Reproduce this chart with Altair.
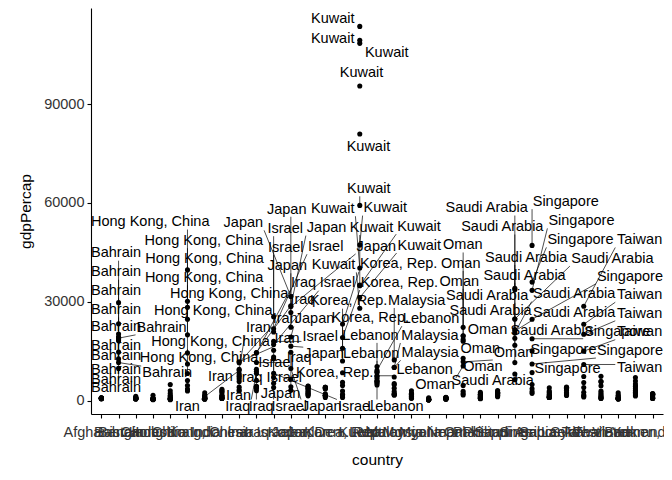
import numpy as np
import pandas as pd
import altair as alt

years = [1952, 1957, 1962, 1967, 1972, 1977, 1982, 1987, 1992, 1997, 2002, 2007]

countries = ["Afghanistan", "Bahrain", "Bangladesh", "Cambodia", "China",
             "Hong Kong, China", "India", "Indonesia", "Iran", "Iraq", "Israel",
             "Japan", "Jordan", "Korea, Dem. Rep.", "Korea, Rep.", "Kuwait",
             "Lebanon", "Malaysia", "Mongolia", "Myanmar", "Nepal", "Oman",
             "Pakistan", "Philippines", "Saudi Arabia", "Singapore", "Sri Lanka",
             "Syria", "Taiwan", "Thailand", "Vietnam", "West Bank and Gaza",
             "Yemen, Rep."]

afghanistan = [779, 821, 853, 836, 740, 786, 978, 852, 649, 635, 727, 975]
bahrain = [9867, 11636, 12753, 14805, 18269, 19340, 19211, 18524, 19036, 20292, 23404, 29796]
bangladesh = [684, 662, 686, 721, 630, 660, 677, 752, 838, 973, 1136, 1391]
cambodia = [368, 434, 497, 523, 422, 525, 625, 684, 682, 734, 896, 1714]
china = [400, 576, 488, 613, 677, 741, 962, 1379, 1656, 2289, 3119, 4959]
hong_kong = [3054, 3629, 4693, 6198, 8316, 11186, 14561, 20038, 24758, 28378, 30209, 39725]
india = [547, 590, 658, 701, 724, 813, 856, 977, 1164, 1459, 1747, 2452]
indonesia = [750, 859, 849, 763, 1111, 1383, 1517, 1748, 2383, 3119, 2874, 3541]
iran = [3035, 3290, 4187, 5906, 9613, 11889, 7608, 6642, 7235, 8263, 9241, 11606]
iraq = [4130, 6229, 8342, 8931, 9576, 14688, 14517, 11644, 3745, 3076, 4391, 4471]
israel = [4087, 5386, 7106, 8394, 12787, 13306, 15367, 17122, 18051, 20897, 21906, 25523]
japan = [3217, 4318, 6577, 9848, 14779, 16610, 19384, 22376, 26825, 28817, 28605, 31656]
jordan = [1547, 1886, 2348, 2742, 2110, 2852, 4162, 4449, 3432, 3645, 3845, 4519]
korea_dem = [1088, 1572, 1622, 2144, 3702, 4106, 4106, 4106, 3726, 1691, 1647, 1593]
korea_rep = [1031, 1488, 1536, 2029, 3031, 4657, 5623, 8533, 12104, 15994, 19234, 23348]
kuwait = [108382, 113523, 95458, 80895, 109348, 59265, 31354, 28118, 34933, 40301, 35110, 47307]
lebanon = [4834, 6090, 5716, 6006, 7486, 8660, 7640, 5377, 6891, 8755, 9314, 10461]
malaysia = [1831, 1810, 2036, 2278, 2849, 3828, 4920, 5249, 7277, 10132, 10207, 12452]
mongolia = [786, 912, 1056, 1226, 1421, 1648, 2000, 2338, 1786, 1902, 2140, 3096]
myanmar = [331, 350, 388, 349, 357, 371, 424, 385, 347, 415, 611, 944]
nepal = [546, 598, 652, 677, 675, 694, 718, 775, 898, 1011, 1057, 1091]
oman = [1828, 2243, 2925, 4721, 10618, 11848, 12955, 18115, 18617, 19702, 19775, 22316]
pakistan = [685, 747, 804, 942, 1050, 1176, 1443, 1705, 1972, 2050, 2093, 2606]
philippines = [1273, 1548, 1650, 1814, 1989, 2373, 2603, 2190, 2279, 2537, 2651, 3190]
saudi_arabia = [6460, 8157, 11626, 16903, 24837, 34168, 33693, 21199, 24841, 20586, 19014, 21655]
singapore = [2315, 2843, 3675, 4977, 8597, 11210, 15169, 18862, 24769, 33519, 36023, 47143]
sri_lanka = [1084, 1073, 1074, 1136, 1213, 1349, 1648, 1877, 2154, 2665, 3015, 3970]
syria = [1644, 2118, 2194, 1882, 2571, 3196, 3793, 3900, 3765, 4014, 4090, 4185]
taiwan = [1207, 1508, 1823, 2644, 4063, 5597, 7426, 11055, 15097, 20207, 23235, 28718]
thailand = [757, 793, 1002, 1295, 1524, 1961, 2393, 2982, 4616, 5853, 5913, 7458]
vietnam = [605, 676, 772, 637, 700, 714, 707, 821, 989, 1386, 1764, 2442]
west_bank = [1516, 1827, 2199, 2650, 3133, 3683, 4337, 5108, 6018, 7111, 4516, 3025]
yemen = [782, 805, 826, 863, 1266, 1830, 1978, 1972, 1880, 2154, 2117, 2281]

gdp_lists = [afghanistan, bahrain, bangladesh, cambodia, china, hong_kong, india,
             indonesia, iran, iraq, israel, japan, jordan, korea_dem, korea_rep,
             kuwait, lebanon, malaysia, mongolia, myanmar, nepal, oman, pakistan,
             philippines, saudi_arabia, singapore, sri_lanka, syria, taiwan,
             thailand, vietnam, west_bank, yemen]

y_ticks = [0, 30000, 60000, 90000]
LABEL_MIN = 7500

# ---- geometry of the panel (used for the label-repel layout) ----
W, H = 572, 406
Y_MIN, Y_MAX = -3950, 119100
X_MIN, X_MAX = -0.6, len(countries) - 1 + 0.6
FS = 14.5
FONT = "Liberation Sans"

rows = []
for ci, (c, vals) in enumerate(zip(countries, gdp_lists)):
    for yr, v in zip(years, vals):
        rows.append({"country": c, "idx": ci, "year": yr, "gdpPercap": v})
df = pd.DataFrame(rows)


def to_px(xv, yv):
    return ((np.asarray(xv, dtype=float) - X_MIN) / (X_MAX - X_MIN) * W,
            (Y_MAX - np.asarray(yv, dtype=float)) / (Y_MAX - Y_MIN) * H)


def from_px(px, py):
    return (X_MIN + np.asarray(px) / W * (X_MAX - X_MIN),
            Y_MAX - np.asarray(py) / H * (Y_MAX - Y_MIN))


CW = {" ": 278, ",": 278, ".": 278, "A": 667, "B": 667, "C": 722, "H": 722, "I": 278,
      "J": 500, "K": 667, "L": 556, "M": 833, "O": 778, "R": 722, "S": 667, "T": 611,
      "a": 556, "b": 556, "c": 500, "d": 556, "e": 556, "g": 556, "h": 556, "i": 222,
      "k": 500, "l": 222, "m": 833, "n": 556, "o": 556, "p": 556, "q": 556, "r": 333,
      "s": 500, "t": 278, "u": 556, "w": 722, "y": 500, "v": 500}


def text_w(s):
    return sum(CW.get(ch, 556) for ch in s) / 1000 * FS


# ---- simple repel layout, in the spirit of ggrepel ----
lab = df[df.gdpPercap > LABEL_MIN].reset_index(drop=True)
ax, ay = to_px(lab.idx.values, lab.gdpPercap.values)
px, py = to_px(df.idx.values, df.gdpPercap.values)
PAD = 2.5
hw = np.array([text_w(s) / 2 + PAD for s in lab.country])
hh = np.full(len(lab), FS * 0.5 + PAD)
k = np.arange(len(lab))
cx = ax + 5 * np.cos(k * 2.39996)
cy = ay + 5 * np.sin(k * 2.39996)
pr = 3.0
n = len(lab)
eye = np.eye(n, dtype=bool)
for it in range(2000):
    dx = cx[:, None] - cx[None, :]
    dy = cy[:, None] - cy[None, :]
    ox = hw[:, None] + hw[None, :] - np.abs(dx)
    oy = hh[:, None] + hh[None, :] - np.abs(dy)
    ov = (ox > 0) & (oy > 0) & ~eye
    d = np.sqrt(dx ** 2 + dy ** 2) + 1e-6
    mag = np.where(ov, np.minimum(ox, oy), 0.0)
    fx = (mag * dx / d).sum(1)
    fy = (mag * dy / d).sum(1)
    pdx = cx[:, None] - px[None, :]
    pdy = cy[:, None] - py[None, :]
    pox = hw[:, None] + pr - np.abs(pdx)
    poy = hh[:, None] + pr - np.abs(pdy)
    pov = (pox > 0) & (poy > 0)
    pd_ = np.sqrt(pdx ** 2 + pdy ** 2) + 1e-6
    pmag = np.where(pov, np.minimum(pox, poy), 0.0)
    fx += 0.5 * (pmag * pdx / pd_).sum(1)
    fy += 0.5 * (pmag * pdy / pd_).sum(1)
    fx += -0.006 * (cx - ax)
    fy += -0.006 * (cy - ay)
    step = 0.25 * (1 - it / 2100)
    cx = np.clip(cx + step * fx, hw - PAD, W - hw + PAD)
    cy = np.clip(cy + step * fy, hh + 1, H - hh + PAD)

# segments from point to nearest edge of label box
bw = hw - PAD + 1
bh = hh - PAD
nx = np.clip(ax, cx - bw, cx + bw)
ny = np.clip(ay, cy - bh, cy + bh)
dist = np.sqrt((nx - ax) ** 2 + (ny - ay) ** 2)
keep = dist > 7
lx, ly = from_px(cx, cy)
lab["lx"] = lx
lab["ly"] = ly
sx, sy = from_px(ax[keep], ay[keep])
ex, ey = from_px(nx[keep], ny[keep])
seg = pd.DataFrame({"x": sx, "y": sy, "x2": ex, "y2": ey})

xscale = alt.Scale(domain=[X_MIN, X_MAX], nice=False, zero=False)
yscale = alt.Scale(domain=[Y_MIN, Y_MAX], nice=False, zero=False)
label_expr = "[" + ",".join("'" + c + "'" for c in countries) + "][datum.value]"

AX_COMMON = dict(grid=False, domainColor="black", domainWidth=1.1, tickColor="black",
                 tickWidth=1.1, tickSize=4, labelFont=FONT, labelFontSize=14.5,
                 labelColor="#333333", titleFont=FONT, titleFontSize=15.5,
                 titleFontWeight="normal", titleColor="black")
x_axis = alt.Axis(values=list(range(len(countries))), labelExpr=label_expr,
                  labelAngle=0, labelOverlap=False, labelBound=False,
                  labelFlush=False, labelPadding=7, titlePadding=14, **AX_COMMON)
y_axis = alt.Axis(values=y_ticks, format="d", labelPadding=3, titlePadding=10,
                  **AX_COMMON)

points = alt.Chart(df).mark_circle(size=26, color="black", opacity=1).encode(
    x=alt.X("idx:Q", scale=xscale, title="country", axis=x_axis),
    y=alt.Y("gdpPercap:Q", scale=yscale, title="gdpPercap", axis=y_axis),
)

segs = alt.Chart(seg).mark_rule(color="black", strokeWidth=0.7).encode(
    x=alt.X("x:Q", scale=xscale, title="country", axis=x_axis), x2="x2:Q",
    y=alt.Y("y:Q", scale=yscale, title="gdpPercap", axis=y_axis), y2="y2:Q",
)

texts = alt.Chart(lab).mark_text(font=FONT, fontSize=FS, color="black",
                                 align="center", baseline="middle").encode(
    x=alt.X("lx:Q", scale=xscale, title="country", axis=x_axis),
    y=alt.Y("ly:Q", scale=yscale, title="gdpPercap", axis=y_axis),
    text="country:N",
)

chart = alt.layer(points, segs, texts).properties(
    width=W, height=H,
    background="white",
    autosize=alt.AutoSizeParams(type="none"),
    padding={"left": 83, "top": 0, "right": 1, "bottom": 58},
).configure_view(strokeWidth=0, stroke="transparent")

chart.save("out.html", embed_options={"renderer": "svg", "actions": False})
